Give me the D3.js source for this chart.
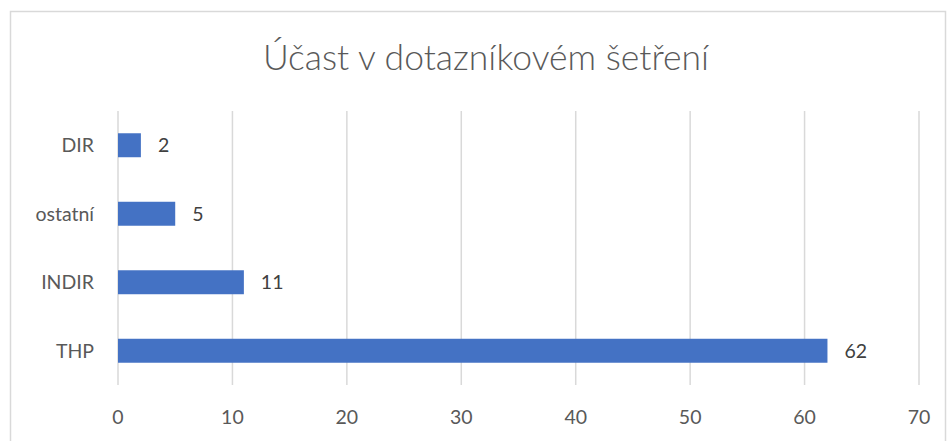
<!DOCTYPE html>
<html>
<head>
<meta charset="utf-8">
<script src="https://cdn.jsdelivr.net/npm/d3@7"></script>
<style>
  body { margin: 0; background: #fff; }
  text { font-family: Lato, "Open Sans", sans-serif; }
</style>
</head>
<body>
<script>
// chart values
var categories = ['DIR', 'ostatní', 'INDIR', 'THP'];
var values = [2, 5, 11, 62];
var xTicks = [0, 10, 20, 30, 40, 50, 60, 70];
var title = 'Účast v dotazníkovém šetření';

var width = 950;
var height = 441;

var svg = d3.select('body')
    .append('svg')
    .attr('width', width)
    .attr('height', height);

// chart frame
svg.append('rect')
    .attr('x', 10.5)
    .attr('y', 11.5)
    .attr('width', 935)
    .attr('height', 440)
    .attr('fill', '#fff')
    .attr('stroke', '#d9d9d9')
    .attr('stroke-width', 1.5);

var x = d3.scaleLinear()
    .domain([0, 70])
    .range([118, 919]);

var y = d3.scaleBand()
    .domain(categories)
    .range([111, 385])
    .paddingInner(0.65)
    .paddingOuter(0.325);

// gridlines
svg.append('g')
    .selectAll('line')
    .data(xTicks)
    .enter()
    .append('line')
    .attr('x1', function(d) { return x(d); })
    .attr('x2', function(d) { return x(d); })
    .attr('y1', 111)
    .attr('y2', 385)
    .attr('stroke', '#d9d9d9')
    .attr('stroke-width', 1.5);

// x tick labels
svg.append('g')
    .selectAll('text')
    .data(xTicks)
    .enter()
    .append('text')
    .attr('x', function(d) { return x(d); })
    .attr('y', 417)
    .attr('dy', '0.35em')
    .attr('text-anchor', 'middle')
    .attr('font-size', 19.5)
    .attr('fill', '#595959')
    .text(function(d) { return d; });

// category labels
svg.append('g')
    .selectAll('text')
    .data(categories)
    .enter()
    .append('text')
    .attr('x', 94)
    .attr('y', function(d) { return y(d) + y.bandwidth() / 2; })
    .attr('dy', '0.35em')
    .attr('text-anchor', 'end')
    .attr('font-size', 19.5)
    .attr('fill', '#595959')
    .text(function(d) { return d; });

// bars
svg.append('g')
    .selectAll('rect')
    .data(values)
    .enter()
    .append('rect')
    .attr('x', x(0))
    .attr('y', function(d, i) { return y(categories[i]); })
    .attr('width', function(d) { return x(d) - x(0); })
    .attr('height', y.bandwidth())
    .attr('fill', '#4472c4');

// value labels
svg.append('g')
    .selectAll('text')
    .data(values)
    .enter()
    .append('text')
    .attr('x', function(d) { return x(d) + 17; })
    .attr('y', function(d, i) { return y(categories[i]) + y.bandwidth() / 2; })
    .attr('dy', '0.35em')
    .attr('font-size', 19.5)
    .attr('fill', '#404040')
    .text(function(d) { return d; });

svg.append('text')
    .attr('x', 486)
    .attr('y', 58)
    .attr('dy', '0.35em')
    .attr('text-anchor', 'middle')
    .attr('font-size', 35.5)
    .attr('font-weight', 300)
    .attr('fill', '#595959')
    .text(title);
</script>
</body>
</html>
